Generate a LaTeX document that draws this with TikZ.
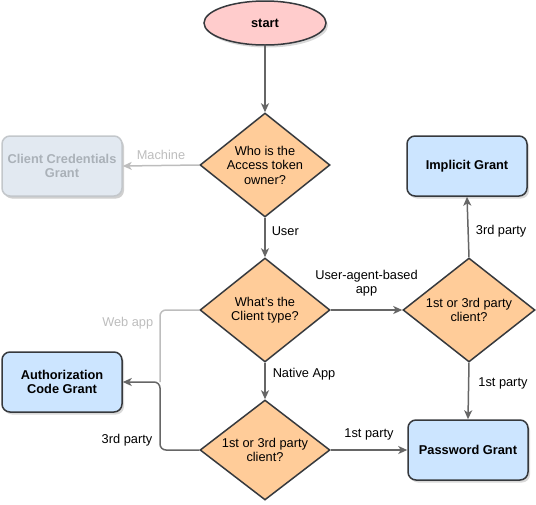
\documentclass[tikz,border=0pt]{standalone}
\usepackage{fontspec}
\setmainfont{Liberation Sans}
\usetikzlibrary{shapes.geometric,arrows.meta,shadows}
\definecolor{decfill}{HTML}{FFCC99}
\definecolor{grantfill}{HTML}{CCE5FF}
\definecolor{startfill}{HTML}{FFCCCC}
\definecolor{bordergray}{HTML}{36393D}
\definecolor{linegray}{HTML}{666666}
\definecolor{fadegray}{HTML}{BDBDBD}
\definecolor{fadefill}{HTML}{E2E9F1}
\definecolor{fadeborder}{HTML}{C3C7CB}
\definecolor{fadetext}{HTML}{AAB1B8}
\begin{document}
\begin{tikzpicture}[x=1pt, y=-1pt, font=\fontsize{12.8}{14.5}\selectfont,
  decision/.style={diamond, draw=bordergray, line width=1.5pt, fill=decfill, aspect=1.25,
    minimum width=130pt, minimum height=104pt, inner sep=0pt, align=center},
  grant/.style={rectangle, rounded corners=8pt, draw=bordergray, line width=1.5pt, fill=grantfill,
    minimum width=120pt, minimum height=60pt, align=center, font=\fontsize{12.8}{14.5}\selectfont\bfseries,
    drop shadow={shadow xshift=2pt, shadow yshift=-2.5pt, opacity=0.3}},
  fadegrant/.style={grant, draw=fadeborder, fill=fadefill, text=fadetext,
    drop shadow={shadow xshift=2pt, shadow yshift=-2.5pt, opacity=0.1}},
  startnode/.style={ellipse, draw=bordergray, line width=1.5pt, fill=startfill,
    minimum width=122pt, minimum height=44pt, font=\fontsize{12.8}{14.5}\selectfont\bfseries,
    drop shadow={shadow xshift=2pt, shadow yshift=-2.5pt, opacity=0.3}},
  flow/.style={draw=linegray, line width=1.5pt, rounded corners=6pt,
    -{Stealth[length=9pt, width=8pt, inset=2.5pt]}},
  lbl/.style={inner sep=1pt, align=center}]
\useasboundingbox (0,0) rectangle (536,504);
\node[startnode] (start) at (265,23) {start};
\node[decision] (owner) at (265,165) {Who is the\\Access token\\owner?};
\node[fadegrant] (client) at (62,166) {Client Credentials\\Grant};
\node[decision] (type) at (265,310) {What's the\\Client type?};
\node[decision, minimum width=132pt] (party3) at (469,310) {1st or 3rd party\\client?};
\node[grant] (implicit) at (467,166) {Implicit Grant};
\node[grant] (password) at (468,450) {Password Grant};
\node[decision, minimum height=100pt] (party1) at (265,450) {1st or 3rd party\\client?};
\node[grant] (authcode) at (62,382) {Authorization\\Code Grant};
\coordinate (bend) at (160,382);
\draw[flow] (start.south) -- (owner.north);
\draw[flow, draw=fadegray] (owner.west) -- node[lbl, above=4pt, text=fadegray] {Machine} (client.east);
\draw[flow] (owner.south) -- node[lbl, pos=0.35, right=5pt] {User} (type.north);
\draw[flow] (type.east) -- node[lbl, above=12pt] {User-agent-based\\app} (party3.west);
\draw[flow] (party3.north) -- node[lbl, pos=0.43, right=6pt] {3rd party} (implicit.south);
\draw[flow] (party3.south) -- node[lbl, pos=0.36, right=8pt] {1st party} (password.north);
\draw[flow] (type.south) -- node[lbl, pos=0.3, right=6pt] {Native App} (party1.north);
\draw[flow] (party1.east) -- node[lbl, above=8pt] {1st party} (password.west);
\draw[draw=fadegray, line width=1.5pt, rounded corners=6pt] (type.west) -| node[lbl, pos=0.5, anchor=north east, xshift=-5pt, yshift=-5pt, text=fadegray] {Web app} (bend);
\draw[flow] (party1.west) -| node[lbl, pos=0.5, anchor=south east, xshift=-6pt, yshift=2pt] {3rd party} (bend) -- (authcode.east);
\end{tikzpicture}
\end{document}
